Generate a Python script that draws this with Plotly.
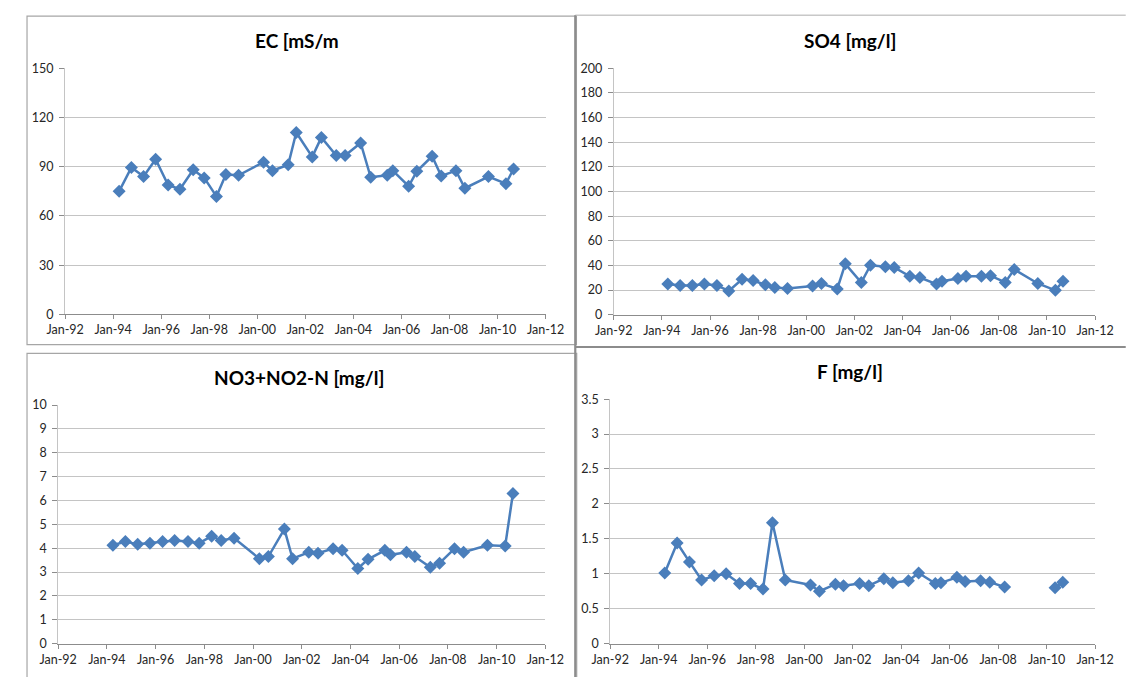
import plotly.graph_objects as go

# ---------------- data ----------------
dates = ["1994-04-01", "1994-10-05", "1995-04-08", "1995-10-08", "1996-04-15", "1996-10-12",
         "1997-05-01", "1997-10-16", "1998-04-20", "1998-09-10", "1999-03-22", "2000-04-05",
         "2000-08-18", "2001-04-15", "2001-08-15", "2002-04-15", "2002-09-01", "2003-04-15",
         "2003-08-28", "2004-04-20", "2004-09-20", "2005-05-30", "2005-08-22", "2006-04-20",
         "2006-08-22", "2007-04-12", "2007-08-28", "2008-04-08", "2008-08-22", "2009-08-15",
         "2010-05-08", "2010-09-01"]

ec = [75, 89.6, 84, 94.6, 78.9, 76.3, 88.2, 83.2, 71.9, 85.2, 84.8, 92.8, 87.6, 91.2, 110.9, 96,
      107.9, 96.8, 96.8, 104.5, 83.6, 84.8, 87.6, 78.1, 87.2, 96.4, 84.4, 87.6, 76.9, 84, 79.7, 88.6]

so4 = [24.9, 23.8, 23.8, 24.9, 23.8, 19.3, 28.8, 27.8, 24.3, 22.2, 21.4, 23.3, 25.4, 20.9, 41.3, 26.2,
       40.2, 38.9, 38.4, 31.2, 30.2, 24.9, 27.2, 29.4, 31.2, 31.2, 31.7, 26.2, 36.8, 25.4, 19.8, 27.2]

no3 = [4.12, 4.28, 4.16, 4.21, 4.28, 4.32, 4.28, 4.21, 4.5, 4.32, 4.42, 3.56, 3.65, 4.8, 3.56, 3.83,
       3.79, 3.98, 3.91, 3.15, 3.53, 3.91, 3.72, 3.83, 3.65, 3.2, 3.37, 3.98, 3.83, 4.12, 4.09, 6.29]

fluoride = [1.01, 1.44, 1.17, 0.91, 0.97, 1.0, 0.86, 0.86, 0.78, 1.73, 0.91, 0.84, 0.75, 0.85, 0.83, 0.86,
            0.83, 0.93, 0.87, 0.9, 1.01, 0.86, 0.87, 0.95, 0.89, 0.9, 0.88, 0.81, None, None, 0.8, 0.88]

titles = ["EC [mS/m", "SO4 [mg/l]", "NO3+NO2-N [mg/l]", "F [mg/l]"]
y_ranges = [[0, 150], [0, 200], [0, 10], [0, 3.5]]
y_dticks = [30, 20, 1, 0.5]

# ---------------- layout geometry (pixels) ----------------
W, H = 1137, 677
def px(x): return x / W
def py(y): return 1 - y / H

# plot-area boxes: x0, x1, ytop, ybot ; title centre
boxes = [
    (47.7, 544.8, 61.7, 313.3, 288, 33),
    (615.3, 1113.3, 61.7, 313.7, 860, 33),
    (40.5, 544.6, 406.0, 650.0, 290, 378),
    (611.7, 1113.3, 400.0, 650.0, 860, 372),
]
series = [ec, so4, no3, fluoride]

BLUE = "#4A7EBB"
FONT = "Lato, Open Sans, sans-serif"
TICKFONT = dict(family=FONT, size=12.5, color="#262626")

fig = go.Figure()
layout = dict(width=W, height=H, margin=dict(l=0, r=0, t=0, b=0),
              paper_bgcolor="white", plot_bgcolor="white", showlegend=False)

annotations = []
for i, (vals, title, rng, dt, box) in enumerate(zip(series, titles, y_ranges, y_dticks, boxes)):
    n = "" if i == 0 else str(i + 1)
    x0, x1, yt, yb, tx, ty = box
    fig.add_trace(go.Scatter(
        x=dates, y=vals, mode="lines+markers",
        line=dict(color=BLUE, width=2.5),
        marker=dict(symbol="diamond", size=10, color=BLUE),
        connectgaps=False, hoverinfo="skip",
        xaxis="x" + n, yaxis="y" + n))
    layout["xaxis" + n] = dict(
        domain=[px(x0), px(x1)], anchor="y" + n, type="date",
        range=["1992-01-01", "2012-01-01"], tick0="1992-01-01", dtick="M24",
        tickformat="%b-%y", showgrid=False, showline=True, linecolor="#8c8c8c",
        linewidth=1, ticks="outside", ticklen=4, tickcolor="#8c8c8c",
        tickfont=TICKFONT, zeroline=False, fixedrange=True)
    layout["yaxis" + n] = dict(
        domain=[py(yb), py(yt)], anchor="x" + n, range=rng, dtick=dt,
        showgrid=True, gridcolor="#c4c4c4", gridwidth=1, showline=True,
        linecolor="#c4c4c4", linewidth=1, ticks="outside", ticklen=5,
        tickcolor="#8c8c8c", zeroline=False, fixedrange=True,
        ticklabelstandoff=3, tickfont=TICKFONT)
    annotations.append(dict(
        text="<b>" + title + "</b>", x=px(tx), y=py(ty), xref="paper", yref="paper",
        xanchor="center", yanchor="middle", showarrow=False,
        font=dict(family=FONT, size=19, color="black")))

layout["annotations"] = annotations

# panel borders
thin = dict(color="#a6a6a6", width=1.2)
thick = dict(color="#8c8c8c", width=2.2)
layout["shapes"] = [
    dict(type="rect", xref="paper", yref="paper", x0=px(8.3), x1=px(576.7), y0=py(344.3), y1=py(8.3), line=thin),
    dict(type="rect", xref="paper", yref="paper", x0=px(8.3), x1=px(577), y0=py(690), y1=py(353.3), line=thin),
    dict(type="line", xref="paper", yref="paper", x0=px(575.5), x1=px(1145), y0=py(7.5), y1=py(7.5),
         line=dict(color="#c8c8c8", width=1.5)),
    dict(type="line", xref="paper", yref="paper", x0=px(575.5), x1=px(575.5), y0=py(690), y1=py(7.5), line=thick),
    dict(type="line", xref="paper", yref="paper", x0=px(575.5), x1=px(1145), y0=py(346.7), y1=py(346.7), line=thick),
]

fig.update_layout(**layout)
fig.write_html("out.html", config={"displayModeBar": False, "staticPlot": True},
               post_script="document.body.style.margin='0';document.body.style.overflow='hidden';")
